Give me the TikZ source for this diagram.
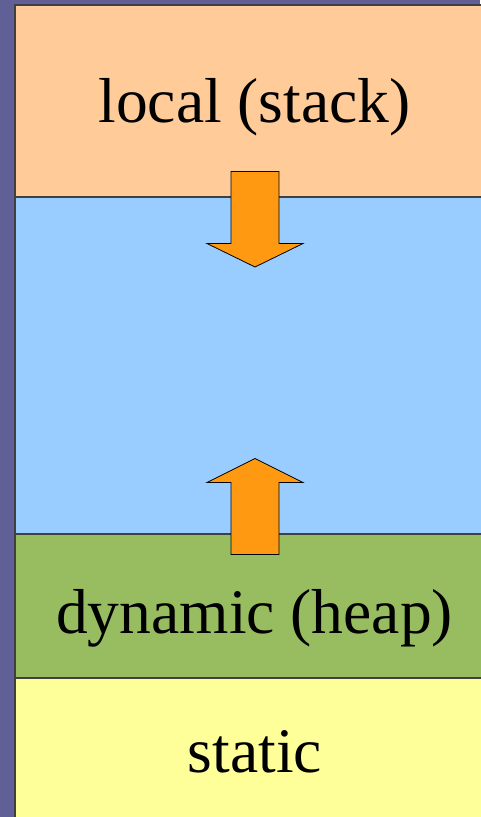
\documentclass[tikz,border=0pt]{standalone}
\usepackage{fontspec}
\setmainfont{Liberation Serif}
\definecolor{frame}{HTML}{606096}
\definecolor{stackc}{HTML}{FFCC99}
\definecolor{freec}{HTML}{99CCFF}
\definecolor{heapc}{HTML}{97BD60}
\definecolor{staticc}{HTML}{FFFF99}
\definecolor{arrowc}{HTML}{FF9912}
\tikzset{
  band/.style={draw=black!75, line width=1.3pt},
  bigarrow/.style={fill=arrowc, draw=black, line width=0.8pt, line join=miter},
  label/.style={anchor=base, inner sep=0pt, font=\fontsize{63.5}{70}\selectfont, text=black}
}
\begin{document}
\begin{tikzpicture}[x=1pt,y=-1pt]
\useasboundingbox (0,0) rectangle (480,817);
\fill[frame] (0,0) rectangle (480,817);
% bands
\fill[stackc] (15,5) rectangle (482,197);
\fill[freec] (15,197) rectangle (482,534);
\fill[heapc] (15,534) rectangle (482,678);
\fill[staticc] (15,678) rectangle (482,819);
\draw[band] (482,5) -- (15,5) -- (15,819);
\draw[band] (15,197) -- (482,197);
\draw[band] (15,534) -- (482,534);
\draw[band] (15,678) -- (482,678);
% arrows
\draw[bigarrow] (231,171.5) -- (279,171.5) -- (279,243.5) -- (303,243.5) -- (255,267) -- (207,243.5) -- (231,243.5) -- cycle;
\draw[bigarrow] (231,554.5) -- (279,554.5) -- (279,482.5) -- (303,482.5) -- (255,458.5) -- (207,482.5) -- (231,482.5) -- cycle;
% labels
\node[label] (stack) at (254.5,122.7) {local (stack)};
\node[label] (heap) at (254.5,633) {dynamic (heap)};
\node[label] (static) at (255,772.7) {static};
\end{tikzpicture}
\end{document}
